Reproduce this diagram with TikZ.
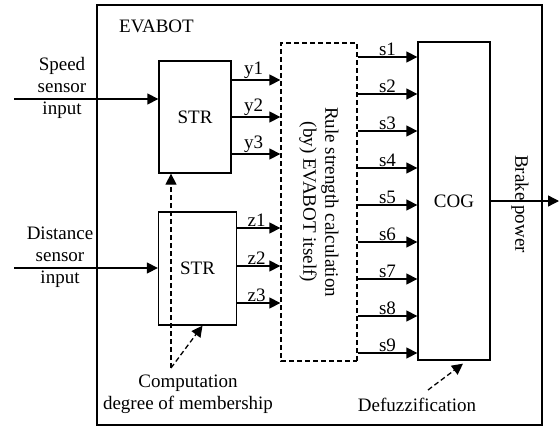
\documentclass[tikz,border=0pt]{standalone}
\usepackage{fontspec}
\setmainfont{Liberation Serif}
\usetikzlibrary{arrows.meta}
\usetikzlibrary{positioning}

\tikzset{
  block/.style={draw, line width=1.3pt, inner sep=0pt},
  arr/.style={line width=1.3pt, -{Triangle[length=11pt,width=11pt]}},
  dasharr/.style={line width=1.3pt, dash pattern=on 5pt off 3pt, -{Triangle[length=11pt,width=11pt]}},
  lbl/.style={inner sep=1pt, align=center}
}

\begin{document}
\begin{tikzpicture}[x=1pt, y=-1pt, font=\fontsize{19}{22}\selectfont]
\useasboundingbox (0,0) rectangle (560,428);
%%% EVABOT frame %%%

      \node[block, minimum width=445pt, minimum height=420pt] (evabot) at (319.5,215) {};
      \node[lbl, anchor=west] (title) at (118,26) {EVABOT};
      %%
      \node[block, minimum width=72pt, minimum height=112pt] (strspeed) at (195,117) {STR};
      \node[block, minimum width=78pt, minimum height=113pt] (strdist) at (197.5,268.5) {STR};
      \node[block, dash pattern=on 5pt off 3pt, rotate=-90, minimum width=318pt, minimum height=76pt, align=center]
        (rule) at (319,202) {Rule strength calculation\\(by) EVABOT itself)};
      \node[block, minimum width=72pt, minimum height=318pt] (cog) at (454,201) {COG};
      %%
      \node[lbl] (speedlbl) at (62,88) {Speed\\sensor\\input};
      \node[lbl] (distlbl) at (60,257) {Distance\\sensor\\input};
      \node[lbl, rotate=-90] (brake) at (520,204) {Brake power};
      \node[lbl] (complbl) at (188,394) {Computation\\degree of membership};
      \node[lbl] (defuzlbl) at (417,405) {Defuzzification};
      %% inputs
      \coordinate (speedin) at (14,99);
      \coordinate (distin) at (14,268);
      \draw[arr] (speedin) -- (speedin -| strspeed.west);
      \draw[arr] (distin) -- (distin -| strdist.west);
      %% fuzzified values
      \foreach \i/\yy in {1/80,2/117,3/154}
        \draw[arr] (strspeed.east |- 0,\yy) -- (rule.south |- 0,\yy) node[pos=0.45, above, inner sep=1pt] {y\i};
      \foreach \i/\yy in {1/228,2/266,3/303}
        \draw[arr] (strdist.east |- 0,\yy) -- (rule.south |- 0,\yy) node[pos=0.45, above, inner sep=1pt] {z\i};
      %% rule strengths
      \foreach \i in {1,...,9}
        \draw[arr] (rule.north |- 0,{57+37*(\i-1)}) -- (cog.west |- 0,{57+37*(\i-1)}) node[midway, above, inner sep=1pt] {s\i};
      %% output
      \coordinate (brakeout) at (559,201);
      \draw[arr] (cog.east |- brakeout) -- (brakeout);
      %% remarks
      \coordinate (comp) at (171,368);
      \draw[dasharr] (comp) -- (comp |- strspeed.south);
      \draw[dasharr] (comp) -- ([xshift=5pt]strdist.south);
      \coordinate (defuz) at (428,390);
      \draw[dasharr] (defuz) -- ([xshift=9pt, yshift=-3pt]cog.south);

\end{tikzpicture}
\end{document}
